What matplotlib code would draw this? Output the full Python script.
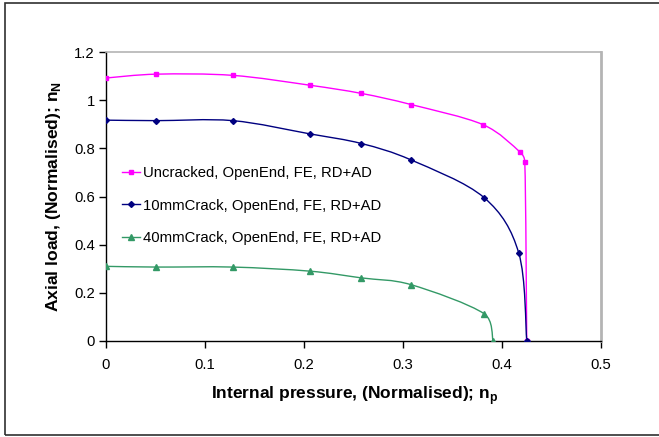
import matplotlib
matplotlib.use("Agg")
import matplotlib.pyplot as plt
from matplotlib.path import Path
from matplotlib.patches import PathPatch, Rectangle
from matplotlib.lines import Line2D
import numpy as np

plt.rcParams['font.family'] = ['Liberation Sans', 'DejaVu Sans']
plt.rcParams['mathtext.fontset'] = 'custom'
plt.rcParams['mathtext.rm'] = 'Liberation Sans'
plt.rcParams['mathtext.bf'] = 'Liberation Sans:bold'

# data
x_uncracked = [0.0, 0.051, 0.128, 0.206, 0.258, 0.308, 0.381, 0.418, 0.423, 0.425]
n_uncracked = [1.092, 1.108, 1.103, 1.062, 1.028, 0.982, 0.898, 0.785, 0.744, 0.0]

x_crack10 = [0.0, 0.051, 0.128, 0.206, 0.258, 0.308, 0.382, 0.417, 0.425]
n_crack10 = [0.917, 0.915, 0.915, 0.860, 0.820, 0.752, 0.595, 0.364, 0.0]

x_crack40 = [0.0, 0.051, 0.128, 0.206, 0.258, 0.308, 0.382, 0.391]
n_crack40 = [0.310, 0.307, 0.307, 0.290, 0.262, 0.234, 0.113, 0.0]

labels = ["Uncracked, OpenEnd, FE, RD+AD",
          "10mmCrack, OpenEnd, FE, RD+AD",
          "40mmCrack, OpenEnd, FE, RD+AD"]
colors = ["#FF00FF", "#000080", "#339966"]
markers = ["s", "D", "^"]
msizes = [3.3, 3, 4]


def smooth_path(xs, ys, sx, sy):
    # excel-like smoothed line (catmull-rom -> bezier), done in pixel-ish space
    p = np.column_stack([np.array(xs) * sx, np.array(ys) * sy])
    verts = [p[0]]
    codes = [Path.MOVETO]
    n = len(p)
    for i in range(n - 1):
        p0 = p[i - 1] if i > 0 else p[i]
        p1 = p[i]
        p2 = p[i + 1]
        p3 = p[i + 2] if i + 2 < n else p[i + 1]
        seg = np.hypot(*(p2 - p1))
        t1 = (p2 - p0) / 6.0
        t2 = (p3 - p1) / 6.0
        # keep the arms short on tiny segments so the curve does not loop
        for t in (t1, t2):
            L = np.hypot(*t)
            if L > 0.4 * seg:
                t *= 0.4 * seg / L
        verts += [p1 + t1, p2 - t2, p2]
        codes += [Path.CURVE4] * 3
    verts = np.array(verts)
    verts[:, 0] /= sx
    verts[:, 1] /= sy
    return Path(verts, codes)


fig = plt.figure(figsize=(6.59, 4.37), dpi=100)
ax = fig.add_axes([106 / 659, 1 - 341 / 437, 495 / 659, 289 / 437])

series = [(x_uncracked, n_uncracked), (x_crack10, n_crack10), (x_crack40, n_crack40)]
handles = []
for (xs, ys), c, m, ms, lab in zip(series, colors, markers, msizes, labels):
    patch = PathPatch(smooth_path(xs, ys, 990.0, 240.8), facecolor='none',
                      edgecolor=c, lw=1.0, zorder=3)
    ax.add_patch(patch)
    ax.plot(xs, ys, linestyle='none', marker=m, color=c, markersize=ms, zorder=4)
    handles.append(Line2D([], [], color=c, lw=1.0, marker=m, markersize=ms, label=lab))

ax.set_xlim(0, 0.5)
ax.set_ylim(0, 1.2)
ax.set_xticks(np.arange(0, 0.51, 0.1))
ax.set_xticklabels(["0", "0.1", "0.2", "0.3", "0.4", "0.5"])
ax.set_yticks(np.arange(0, 1.21, 0.2))
ax.set_yticklabels(["0", "0.2", "0.4", "0.6", "0.8", "1", "1.2"])
ax.tick_params(direction='out', length=5, width=1, labelsize=10.7)
ax.tick_params(axis='x', pad=7)
ax.tick_params(axis='y', pad=3)

for s in ['top', 'right']:
    ax.spines[s].set_color('#b4b4b4')
ax.spines['top'].set_linewidth(1.2)
ax.spines['right'].set_linewidth(2)
for s in ['left', 'bottom']:
    ax.spines[s].set_color('black')
    ax.spines[s].set_linewidth(1)

ax.set_xlabel(r"Internal pressure, (Normalised); n$_{\mathbf{p}}$",
              fontsize=12.5, fontweight='bold')
ax.set_ylabel(r"Axial load, (Normalised); n$_{\mathbf{N}}$",
              fontsize=12.6, fontweight='bold')
ax.xaxis.set_label_coords(0.503, -0.15)
ax.yaxis.set_label_coords(-0.087, 0.5)

ax.legend(handles=handles, loc='upper left', bbox_to_anchor=(0.032, 0.606),
          frameon=False, fontsize=10.7, labelspacing=1.26, handlelength=1.2,
          handletextpad=0.2, borderpad=0, borderaxespad=0)

# outer chart border
fig.patches.append(Rectangle((5 / 659, 2 / 437), 1.0, 432 / 437,
                             transform=fig.transFigure, fill=False,
                             edgecolor='#303030', lw=1.2))

fig.savefig("out.png", dpi=100)
